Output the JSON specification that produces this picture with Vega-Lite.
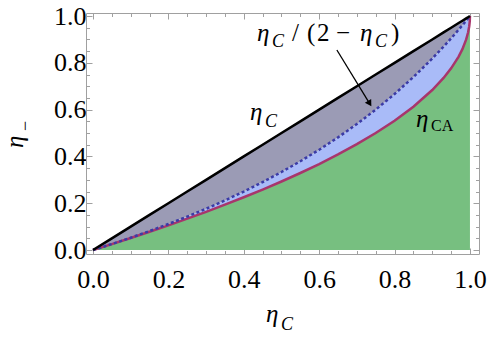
{
  "$schema": "https://vega.github.io/schema/vega-lite/v6.json",
  "width": 393,
  "height": 241,
  "autosize": {"type": "none"},
  "padding": {"left": 86, "top": 13, "right": 12, "bottom": 83},
  "background": "white",
  "config": {
    "view": {"stroke": null},
    "axis": {
      "domainColor": "#a0a0a0",
      "tickColor": "#a0a0a0",
      "labelFont": "Liberation Serif",
      "labelFontSize": 26,
      "labelColor": "black",
      "grid": false,
      "title": null,
      "labelOverlap": false,
      "labelFlush": false
    }
  },
  "data": {
    "values": [
      {"x": 0, "c": 0, "d": 0, "ca": 0},
      {"x": 0.05, "c": 0.05, "d": 0.025641, "ca": 0.025321},
      {"x": 0.1, "c": 0.1, "d": 0.052632, "ca": 0.051317},
      {"x": 0.15, "c": 0.15, "d": 0.081081, "ca": 0.078046},
      {"x": 0.2, "c": 0.2, "d": 0.111111, "ca": 0.105573},
      {"x": 0.25, "c": 0.25, "d": 0.142857, "ca": 0.133975},
      {"x": 0.3, "c": 0.3, "d": 0.176471, "ca": 0.16334},
      {"x": 0.35, "c": 0.35, "d": 0.212121, "ca": 0.193774},
      {"x": 0.4, "c": 0.4, "d": 0.25, "ca": 0.225403},
      {"x": 0.45, "c": 0.45, "d": 0.290323, "ca": 0.25838},
      {"x": 0.5, "c": 0.5, "d": 0.333333, "ca": 0.292893},
      {"x": 0.55, "c": 0.55, "d": 0.37931, "ca": 0.32918},
      {"x": 0.6, "c": 0.6, "d": 0.428571, "ca": 0.367544},
      {"x": 0.65, "c": 0.65, "d": 0.481481, "ca": 0.408392},
      {"x": 0.7, "c": 0.7, "d": 0.538462, "ca": 0.452277},
      {"x": 0.75, "c": 0.75, "d": 0.6, "ca": 0.5},
      {"x": 0.8, "c": 0.8, "d": 0.666667, "ca": 0.552786},
      {"x": 0.85, "c": 0.85, "d": 0.73913, "ca": 0.612702},
      {"x": 0.9, "c": 0.9, "d": 0.818182, "ca": 0.683772},
      {"x": 0.93, "c": 0.93, "d": 0.869159, "ca": 0.735425},
      {"x": 0.95, "c": 0.95, "d": 0.904762, "ca": 0.776393},
      {"x": 0.97, "c": 0.97, "d": 0.941748, "ca": 0.826795},
      {"x": 0.98, "c": 0.98, "d": 0.960784, "ca": 0.858579},
      {"x": 0.99, "c": 0.99, "d": 0.980198, "ca": 0.9},
      {"x": 0.995, "c": 0.995, "d": 0.99005, "ca": 0.929289},
      {"x": 0.998, "c": 0.998, "d": 0.996008, "ca": 0.955279},
      {"x": 0.9995, "c": 0.9995, "d": 0.999, "ca": 0.977639},
      {"x": 1, "c": 1, "d": 1, "ca": 1}
    ]
  },
  "resolve": {"axis": {"x": "independent", "y": "independent"}},
  "layer": [
    {
      "mark": {"type": "area", "color": "#77bf80", "opacity": 1},
      "encoding": {
        "x": {"field": "x", "type": "quantitative",
          "scale": {"domain": [-0.0186, 1.024], "nice": false, "zero": false},
          "axis": {"orient": "bottom",
            "values": [0,0.05,0.1,0.15,0.2,0.25,0.3,0.35,0.4,0.45,0.5,0.55,0.6,0.65,0.7,0.75,0.8,0.85,0.9,0.95,1],
            "labelExpr": "abs(datum.value*5 - round(datum.value*5)) < 0.000001 ? format(datum.value, '.1f') : ''",
            "tickSize": {"condition": {"test": "abs(datum.value*5 - round(datum.value*5)) < 0.000001", "value": -6}, "value": -3.5},
            "labelPadding": 18,
            "encode": {"labels": {"update": {"font": {"value": "Liberation Serif"}, "fontSize": {"value": 26}}}}}},
        "y": {"field": "ca", "type": "quantitative",
          "scale": {"domain": [-0.017, 1.013], "nice": false, "zero": false},
          "axis": {"orient": "left",
            "values": [0,0.05,0.1,0.15,0.2,0.25,0.3,0.35,0.4,0.45,0.5,0.55,0.6,0.65,0.7,0.75,0.8,0.85,0.9,0.95,1],
            "labelExpr": "abs(datum.value*5 - round(datum.value*5)) < 0.000001 ? format(datum.value, '.1f') : ''",
            "tickSize": {"condition": {"test": "abs(datum.value*5 - round(datum.value*5)) < 0.000001", "value": -6}, "value": -3.5},
            "labelPadding": 6,
            "encode": {"labels": {"update": {"font": {"value": "Liberation Serif"}, "fontSize": {"value": 26}}}}}},
        "y2": {"datum": 0}
      }
    },
    {
      "mark": {"type": "area", "color": "#a9bbf8", "opacity": 1},
      "encoding": {
        "x": {"field": "x", "type": "quantitative",
          "axis": {"orient": "top",
            "values": [0,0.05,0.1,0.15,0.2,0.25,0.3,0.35,0.4,0.45,0.5,0.55,0.6,0.65,0.7,0.75,0.8,0.85,0.9,0.95,1],
            "labels": false,
            "tickSize": {"condition": {"test": "abs(datum.value*5 - round(datum.value*5)) < 0.000001", "value": -6}, "value": -3.5}}},
        "y": {"field": "ca", "type": "quantitative",
          "axis": {"orient": "right",
            "values": [0,0.05,0.1,0.15,0.2,0.25,0.3,0.35,0.4,0.45,0.5,0.55,0.6,0.65,0.7,0.75,0.8,0.85,0.9,0.95,1],
            "labels": false,
            "tickSize": {"condition": {"test": "abs(datum.value*5 - round(datum.value*5)) < 0.000001", "value": -6}, "value": -3.5}}},
        "y2": {"field": "d"}
      }
    },
    {
      "mark": {"type": "area", "color": "#9b9bb5", "opacity": 1},
      "encoding": {
        "x": {"field": "x", "type": "quantitative", "axis": null},
        "y": {"field": "d", "type": "quantitative", "axis": null},
        "y2": {"field": "c"}
      }
    },
    {
      "mark": {"type": "line", "color": "#a8356c", "strokeWidth": 2.5},
      "encoding": {
        "x": {"field": "x", "type": "quantitative", "axis": null},
        "y": {"field": "ca", "type": "quantitative", "axis": null}
      }
    },
    {
      "mark": {"type": "line", "color": "#3b3ba6", "strokeWidth": 2.5, "strokeDash": [3, 2.5]},
      "encoding": {
        "x": {"field": "x", "type": "quantitative", "axis": null},
        "y": {"field": "d", "type": "quantitative", "axis": null}
      }
    },
    {
      "mark": {"type": "line", "color": "black", "strokeWidth": 2.5},
      "encoding": {
        "x": {"field": "x", "type": "quantitative", "axis": null},
        "y": {"field": "c", "type": "quantitative", "axis": null}
      }
    },
    {
      "data": {"values": [{"x1": 0.647, "y1": 0.855, "x2": 0.734, "y2": 0.626}]},
      "mark": {"type": "rule", "color": "black", "strokeWidth": 1.3},
      "encoding": {
        "x": {"field": "x1", "type": "quantitative", "axis": null},
        "y": {"field": "y1", "type": "quantitative", "axis": null},
        "x2": {"field": "x2"},
        "y2": {"field": "y2"}
      }
    },
    {
      "data": {"values": [{"x": 0.734, "y": 0.626}]},
      "mark": {"type": "point", "shape": "triangle-down", "filled": true, "color": "black", "size": 55, "angle": 328.5, "opacity": 1},
      "encoding": {
        "x": {"field": "x", "type": "quantitative", "axis": null},
        "y": {"field": "y", "type": "quantitative", "axis": null}
      }
    },
    {
      "data": {"values": [
        {"t": "η", "px": 0.435, "py": 0.8932},
        {"t": "η", "px": 0.7082, "py": 0.8932},
        {"t": "η", "px": 0.4164, "py": 0.5556},
        {"t": "η", "px": 0.8568, "py": 0.5256},
        {"t": "η", "px": 0.4589, "py": -0.3077}
      ]},
      "mark": {"type": "text", "align": "left", "baseline": "alphabetic", "font": "Liberation Serif", "fontStyle": "italic", "fontSize": 25, "color": "black"},
      "encoding": {
        "x": {"field": "px", "type": "quantitative", "axis": null},
        "y": {"field": "py", "type": "quantitative", "axis": null},
        "text": {"field": "t"}
      }
    },
    {
      "data": {"values": [
        {"t": "C", "px": 0.4748, "py": 0.8675},
        {"t": "C", "px": 0.748, "py": 0.8675},
        {"t": "C", "px": 0.4562, "py": 0.5256},
        {"t": "C", "px": 0.4987, "py": -0.3419}
      ]},
      "mark": {"type": "text", "align": "left", "baseline": "alphabetic", "font": "Liberation Serif", "fontStyle": "italic", "fontSize": 18, "color": "black"},
      "encoding": {
        "x": {"field": "px", "type": "quantitative", "axis": null},
        "y": {"field": "py", "type": "quantitative", "axis": null},
        "text": {"field": "t"}
      }
    },
    {
      "data": {"values": [
        {"t": "/", "px": 0.5279, "py": 0.8932},
        {"t": "(", "px": 0.5676, "py": 0.8932},
        {"t": "2", "px": 0.5942, "py": 0.8932},
        {"t": "−", "px": 0.6446, "py": 0.8932},
        {"t": ")", "px": 0.7905, "py": 0.8932}
      ]},
      "mark": {"type": "text", "align": "left", "baseline": "alphabetic", "font": "Liberation Serif", "fontSize": 25, "color": "black"},
      "encoding": {
        "x": {"field": "px", "type": "quantitative", "axis": null},
        "y": {"field": "py", "type": "quantitative", "axis": null},
        "text": {"field": "t"}
      }
    },
    {
      "data": {"values": [
        {"t": "CA", "px": 0.8966, "py": 0.5085}
      ]},
      "mark": {"type": "text", "align": "left", "baseline": "alphabetic", "font": "Liberation Serif", "fontSize": 16, "color": "black"},
      "encoding": {
        "x": {"field": "px", "type": "quantitative", "axis": null},
        "y": {"field": "py", "type": "quantitative", "axis": null},
        "text": {"field": "t"}
      }
    },
    {
      "data": {"values": [
        {"t": "η", "px": -0.1857, "py": 0.4359}
      ]},
      "mark": {"type": "text", "align": "left", "baseline": "alphabetic", "font": "Liberation Serif", "fontStyle": "italic", "fontSize": 25, "color": "black", "angle": 270},
      "encoding": {
        "x": {"field": "px", "type": "quantitative", "axis": null},
        "y": {"field": "py", "type": "quantitative", "axis": null},
        "text": {"field": "t"}
      }
    },
    {
      "data": {"values": [
        {"t": "−", "px": -0.1658, "py": 0.5085}
      ]},
      "mark": {"type": "text", "align": "left", "baseline": "alphabetic", "font": "Liberation Serif", "fontSize": 18, "color": "black", "angle": 270},
      "encoding": {
        "x": {"field": "px", "type": "quantitative", "axis": null},
        "y": {"field": "py", "type": "quantitative", "axis": null},
        "text": {"field": "t"}
      }
    }
  ]
}
